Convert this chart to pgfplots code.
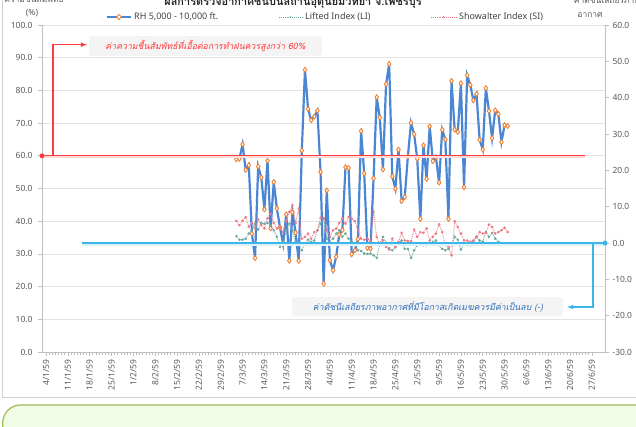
\documentclass[border=0pt]{standalone}
\usepackage{fontspec}
\setmainfont{Noto Sans}
\newfontfamily\thai[Script=Thai]{Loma}
\newfontfamily\thaiit[Script=Thai,FakeSlant=0.2]{Loma}
\usepackage{pgfplots}
\usepackage{pgfplotstable}
\pgfplotsset{compat=1.18}
\definecolor{rhblue}{HTML}{4A86D4}
\definecolor{rhorange}{HTML}{EE8133}
\definecolor{liteal}{HTML}{6AA89D}
\definecolor{sired}{HTML}{F07884}
\definecolor{ticktext}{HTML}{595959}
\definecolor{axgray}{HTML}{BFBFBF}
\definecolor{gridgray}{HTML}{E2E2E2}
\definecolor{annred}{HTML}{FF3B3B}
\definecolor{anncyan}{HTML}{3DB5E6}
\definecolor{annblue}{HTML}{2F6FB8}
\definecolor{boxgray}{HTML}{F4F4F4}
\definecolor{greenfill}{HTML}{F2FBE6}
\definecolor{greenline}{HTML}{9BBB59}

\pgfplotstableread{
d rh li si
61 58.9 1.9 6.1
62 59.1 0.9 4.9
63 63.5 0.9 6.1
64 55.7 1.2 7.1
65 57.1 2.6 4.5
66 36.2 3.5 5.5
67 28.7 5.3 4.0
68 56.7 3.7 6.5
69 53.4 5.5 4.9
70 43.6 5.3 4.0
71 58.5 5.5 6.8
72 37.8 4.9 8.1
73 52.0 3.5 5.5
74 43.9 1.7 4.0
75 38.1 -1.1 4.4
76 33.0 0.3 3.0
77 42.1 3.5 6.0
78 27.9 5.3 8.6
79 42.7 3.5 10.4
80 36.5 0.3 5.5
81 27.9 -0.6 9.5
82 61.6 -2.0 1.2
83 86.3 -0.2 1.7
84 74.3 0.9 2.6
85 70.9 0.3 1.2
86 72.0 0.7 3.0
87 73.8 3.5 3.5
88 55.1 5.3 6.9
89 20.9 6.7 6.9
90 49.4 1.2 3.5
91 28.0 0.3 1.7
92 25.0 1.2 3.5
93 29.1 2.6 4.0
94 35.9 3.5 5.5
95 37.3 1.7 6.7
96 56.5 2.6 5.3
97 56.3 1.2 7.2
98 29.9 0.3 6.7
99 31.1 -0.2 6.0
100 34.5 -2.0 3.5
101 67.6 -2.2 1.2
102 54.6 -2.9 0.9
103 31.8 -3.0 1.2
104 31.6 -2.9 0.5
105 53.1 -3.4 8.6
106 77.9 -4.1 1.7
107 71.7 -0.2 -0.6
108 55.8 1.7 0.7
109 81.9 0.1 -1.1
110 88.1 -1.6 -1.8
111 53.7 -2.0 1.2
112 49.9 -1.1 -1.1
113 61.9 -0.2 0.3
114 46.2 0.7 2.8
115 47.4 -1.6 0.7
116 59.8 -1.6 0.6
117 70.1 -4.1 0.5
118 66.6 -2.0 3.7
119 59.1 -0.6 1.7
120 40.7 -0.2 3.0
121 63.2 -0.6 2.8
122 52.9 -0.6 4.0
123 69.0 -0.2 0.7
124 58.4 0.3 1.7
125 59.6 0.7 2.6
126 51.8 -0.6 5.1
127 68.0 -1.6 3.0
128 65.0 -2.0 -0.6
129 40.7 -1.6 -1.1
130 82.9 -0.6 -3.4
131 68.0 1.7 6.0
132 67.3 0.9 4.4
133 82.2 -1.8 2.6
134 50.4 -0.2 0.7
135 84.6 -0.6 0.7
136 81.7 -0.6 0.3
137 77.0 0.3 0.7
138 78.9 1.7 1.7
139 64.9 0.7 3.0
140 61.9 0.3 2.6
141 80.7 3.0 2.8
142 73.7 1.7 5.1
143 65.4 2.8 4.4
144 73.9 1.2 2.6
145 72.8 0.3 3.0
146 64.2 0.0 3.5
147 69.4 -0.2 4.2
148 69.1 -0.3 3.0
}\datatable

\begin{document}
\begin{tikzpicture}[x=1bp,y=1bp]
\path[use as bounding box] (0,0) rectangle (636,426);
% outer frame and green box
\draw[black!18, line width=0.8] (2.7,470) -- (2.7,29) -- (680,29);
\draw[greenline, fill=greenfill, line width=1.2, rounded corners=18] (2.7,-30) -- (2.7,21) -- (680,21) -- (680,-30) -- cycle;

% title and axis titles (cut at the top, as in the reference)
\node[anchor=base, font=\thai\bfseries\fontsize{11}{13}\selectfont, text=black!85] at (293,420.5) {ผลการตรวจอากาศชั้นบนสถานีอุตุนิยมวิทยา จ.เพชรบุรี};
\node[anchor=base, font=\thai\fontsize{8.5}{10}\selectfont, text=ticktext] at (34,423.5) {ความชื้นสัมพัทธ์};
\node[font=\fontsize{8.5}{10}\selectfont, text=ticktext] at (32,413) {(\%)};
\node[anchor=base, font=\thai\fontsize{8.5}{10}\selectfont, text=ticktext] at (607,422.5) {ค่าดัชนีเสถียรภาพ};
\node[font=\thai\fontsize{8.5}{10}\selectfont, text=ticktext] at (590,411) {อากาศ};

\begin{axis}[
  at={(42bp,74bp)}, anchor=south west, scale only axis,
  width=563bp, height=327bp,
  xmin=-1.3, xmax=179.2, ymin=0, ymax=100,
  axis x line*=bottom, axis y line*=left,
  axis line style={axgray, line width=0.8, -},
  tick style={axgray, line width=0.7},
  tick align=outside, major tick length=4bp, minor tick length=2.5bp,
  xtick={0,7,...,175}, minor x tick num=6,
  xticklabels={4/1/59,11/1/59,18/1/59,25/1/59,1/2/59,8/2/59,15/2/59,22/2/59,29/2/59,7/3/59,14/3/59,21/3/59,28/3/59,4/4/59,11/4/59,18/4/59,25/4/59,2/5/59,9/5/59,16/5/59,23/5/59,30/5/59,6/6/59,13/6/59,20/6/59,27/6/59},
  x tick label style={rotate=90, anchor=east, font=\fontsize{8.5}{10}\selectfont, text=ticktext},
  ytick={0,10,...,100},
  y tick label style={font=\fontsize{8.5}{10}\selectfont, text=ticktext, xshift=-2bp},
  yticklabel style={/pgf/number format/.cd, fixed, fixed zerofill, precision=1, assume math mode=true},
  ymajorgrids, grid style={gridgray, line width=0.7},
  clip=false,
]
\addplot[rhblue, line width=2.2, mark=diamond*, mark size=2.4,
  mark options={fill=white, draw=rhorange, line width=0.9}] table[x=d, y=rh] {\datatable};
\end{axis}

\begin{axis}[
  at={(42bp,74bp)}, anchor=south west, scale only axis,
  width=563bp, height=327bp,
  xmin=-1.3, xmax=179.2, ymin=-30, ymax=60,
  axis x line=none, axis y line*=right,
  axis line style={axgray, line width=0.8, -},
  tick style={axgray, line width=0.7},
  tick align=outside, major tick length=4bp,
  ytick={-30,-20,...,60},
  y tick label style={font=\fontsize{8.5}{10}\selectfont, text=ticktext},
  yticklabel style={/pgf/number format/.cd, fixed, fixed zerofill, precision=1, assume math mode=true},
]
\addplot[liteal, densely dotted, line width=0.9, mark=*, mark size=0.8,
  mark options={solid, fill=liteal, draw=liteal}] table[x=d, y=li] {\datatable};
\addplot[sired, densely dotted, line width=0.9, mark=*, mark size=0.8,
  mark options={solid, fill=sired, draw=sired}] table[x=d, y=si] {\datatable};
\end{axis}

% reference line at RH 60 and note
\draw[annred!18, line width=3] (42,269) -- (585,269);
\draw[annred, line width=1.1] (42,270.2) -- (585,270.2);
\fill[annred] (42,270.2) circle (2.5);
\draw[annred, line width=1.1, -latex] (53,270.2) -- (53,381.3) -- (87,381.3);
\fill[boxgray, rounded corners=3] (89,370) rectangle (322,390);
\node[font=\thaiit\fontsize{8.8}{10}\selectfont, text=annred] at (205.5,380) {ค่าความชื้นสัมพัทธ์ที่เอื้อต่อการทำฝนควรสูงกว่า 60\%};

% reference line at index 0 and note
\draw[anncyan!18, line width=3] (82,181.8) -- (605,181.8);
\draw[anncyan, line width=1.1] (82,183) -- (605,183);
\fill[anncyan] (605,183) circle (2.5);
\draw[anncyan, line width=1.1, -latex] (593,183) -- (593,119) -- (567,119);
\fill[boxgray, rounded corners=3] (292,110) rectangle (563,129);
\node[font=\thaiit\fontsize{8.8}{10}\selectfont, text=annblue] at (428,119.5) {ค่าดัชนีเสถียรภาพอากาศที่มีโอกาสเกิดเมฆควรมีค่าเป็นลบ (-)};

% legend
\draw[rhblue, line width=2] (107,409) -- (131,409);
\draw[rhorange, fill=white, line width=0.9] (119,406.6) -- (121.4,409) -- (119,411.4) -- (116.6,409) -- cycle;
\node[anchor=west, inner sep=0, font=\fontsize{9}{10}\selectfont, text=black!75] at (134,409) {RH 5,000 - 10,000 ft.};
\draw[liteal, densely dotted, line width=0.9] (279,409) -- (302,409);
\fill[liteal] (290.5,409) circle (0.8);
\node[anchor=west, inner sep=0, font=\fontsize{9}{10}\selectfont, text=black!75] at (305,409) {Lifted Index (LI)};
\draw[sired, densely dotted, line width=0.9] (431,409) -- (456,409);
\fill[sired] (443.5,409) circle (0.8);
\node[anchor=west, inner sep=0, font=\fontsize{9}{10}\selectfont, text=black!75] at (459,409) {Showalter Index (SI)};
\end{tikzpicture}
\end{document}
